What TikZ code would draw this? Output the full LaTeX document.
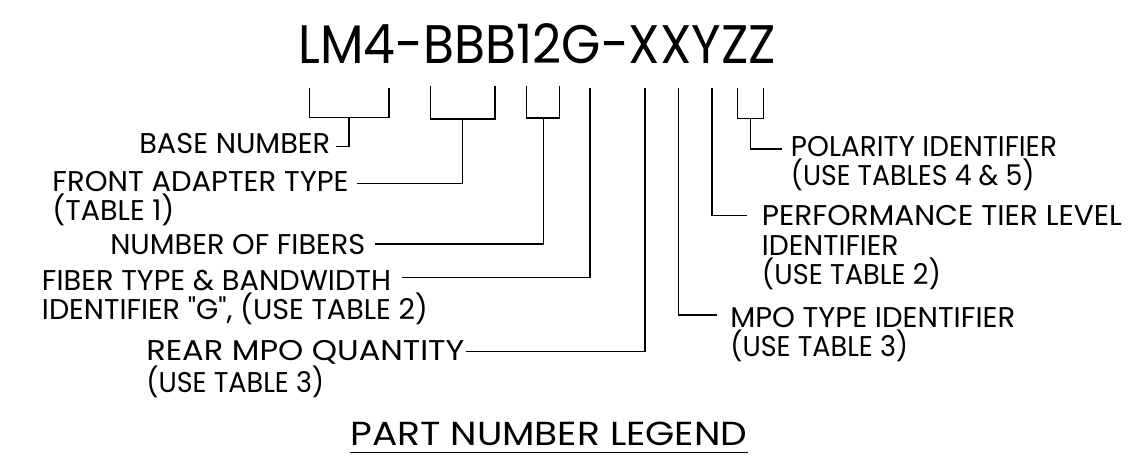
\documentclass[tikz,border=0pt]{standalone}
\usepackage{fontspec}
\usepackage{graphicx}
\newfontfamily\lblfont{Poppins}
\newlength\pxu \setlength\pxu{0.75pt}
\newcommand\fitw[2]{\resizebox{#1\pxu}{\height}{#2}}
\begin{document}
\begin{tikzpicture}[x=0.75pt,y=-0.75pt,
  lbl/.style={font=\lblfont\fontsize{21.4}{22.1}\selectfont, inner sep=0pt, anchor=base west, align=left},
  ttl/.style={font=\lblfont\fontsize{40.7}{42}\selectfont, inner sep=0pt, anchor=base west},
  leg/.style={font=\lblfont\fontsize{25}{26}\selectfont, inner sep=0pt, anchor=base west},
  conn/.style={line width=0.9pt, black}]
\useasboundingbox (0,0) rectangle (1129,456);
\node[ttl] (pn) at (298.3,64) {\fitw{477.4}{LM4-BBB12G-XXYZZ}};
% labels (base anchor = baseline of last line)
\node[lbl] (base) at (139,153.3) {\fitw{191}{BASE NUMBER}};
\node[lbl] (front) at (52.2,221) {\fitw{296}{FRONT ADAPTER TYPE}\\\fitw{122}{(TABLE 1)}};
\node[lbl] (nfib) at (110,255) {\fitw{255}{NUMBER OF FIBERS}};
\node[lbl] (ftype) at (41.7,319.5) {\fitw{349}{FIBER TYPE \& BANDWIDTH}\\\fitw{386}{IDENTIFIER "G", (USE TABLE 2)}};
\node[lbl] (rear) at (146,392.5) {\fitw{318}{REAR MPO QUANTITY}\\\fitw{178}{(USE TABLE 3)}};
\node[lbl] (pol) at (790.7,185.5) {\fitw{266}{POLARITY IDENTIFIER}\\\fitw{243.6}{(USE TABLES 4 \& 5)}};
\node[lbl] (perf) at (761.7,284.5) {\fitw{360}{PERFORMANCE TIER LEVEL}\\\fitw{136.6}{IDENTIFIER}\\\fitw{179}{(USE TABLE 2)}};
\node[lbl] (mpo) at (730,356.5) {\fitw{285}{MPO TYPE IDENTIFIER}\\\fitw{178}{(USE TABLE 3)}};
\node[leg] (leg) at (350,445) {\fitw{397}{PART NUMBER LEGEND}};
\draw[conn] ([yshift=-5.8pt]leg.base west) -- ([yshift=-5.8pt]leg.base east);
% bracket coordinates
\coordinate (b1l) at (309.3,87.7); \coordinate (b1r) at (389,87.7);
\coordinate (b1s) at (349,117.3);  \coordinate (b1e) at (336,146.7);
\coordinate (b2l) at (430.7,86);   \coordinate (b2r) at (495,86);
\coordinate (b2s) at (462.7,119);  \coordinate (b2e) at (356.7,183.3);
\coordinate (b3l) at (526.7,86);   \coordinate (b3r) at (559.3,86);
\coordinate (b3s) at (543.3,118);  \coordinate (b3e) at (375,244);
\coordinate (g0) at (590,87.7);    \coordinate (ge) at (401.7,277.3);
\coordinate (r0) at (645,87.7);    \coordinate (re) at (466,351.7);
\coordinate (m0) at (678.7,87.7);  \coordinate (me) at (716.7,315);
\coordinate (p0) at (712,87.7);    \coordinate (pe) at (746.7,215.7);
\coordinate (b4l) at (737.7,87.7); \coordinate (b4r) at (763.3,87.7);
\coordinate (b4s) at (750.7,118.3);\coordinate (b4e) at (781.7,149);
% brackets and leaders
\draw[conn] (b1l) |- (b1s) -| (b1r);
\draw[conn] (b1s) |- (b1e);
\draw[conn] (b2l) |- (b2s) -| (b2r);
\draw[conn] (b2s) |- (b2e);
\draw[conn] (b3l) |- (b3s) -| (b3r);
\draw[conn] (b3s) |- (b3e);
\draw[conn] (g0) |- (ge);
\draw[conn] (r0) |- (re);
\draw[conn] (m0) |- (me);
\draw[conn] (p0) |- (pe);
\draw[conn] (b4l) |- (b4s) -| (b4r);
\draw[conn] (b4s) |- (b4e);
\end{tikzpicture}
\end{document}
